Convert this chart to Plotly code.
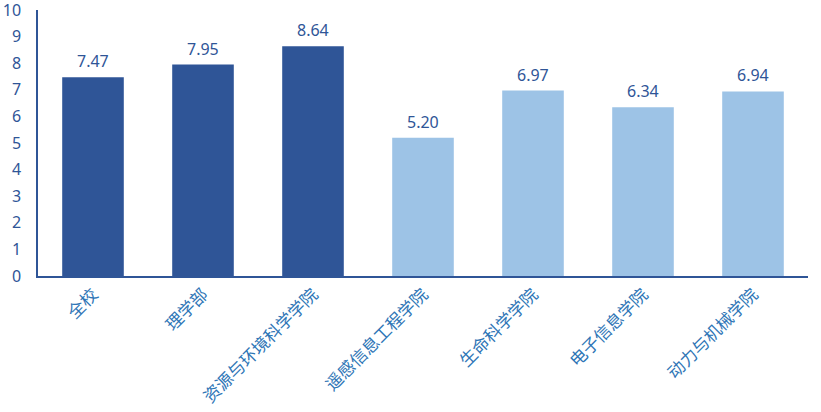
import plotly.graph_objects as go

categories = ["全校", "理学部", "资源与环境科学学院", "遥感信息工程学院", "生命科学学院", "电子信息学院", "动力与机械学院"]
values = [7.47, 7.95, 8.64, 5.20, 6.97, 6.34, 6.94]
bar_colors = ["#2F5597", "#2F5597", "#2F5597", "#9DC3E6", "#9DC3E6", "#9DC3E6", "#9DC3E6"]
y_ticks = list(range(0, 11))

fig = go.Figure(go.Bar(
    x=categories, y=values,
    marker=dict(color=bar_colors, line=dict(width=0)),
    width=0.56,
    cliponaxis=False,
))

for c, v in zip(categories, values):
    fig.add_annotation(
        x=c, y=v, text=f"{v:.2f}", showarrow=False,
        yanchor="bottom", yshift=3,
        font=dict(color="#2F5597", size=16, family="Noto Sans, sans-serif"),
    )

fig.update_layout(
    width=821, height=412,
    margin=dict(l=38, r=13, t=10, b=136),
    plot_bgcolor="white", paper_bgcolor="white",
    showlegend=False,
    font=dict(family="Noto Sans CJK SC, Noto Sans, sans-serif"),
)
fig.update_xaxes(
    automargin=False,
    showline=True, linecolor="#2F5597", linewidth=1.5,
    tickangle=-45, ticks="",
    tickfont=dict(color="#2E75B6", size=17, family="Noto Sans CJK SC"),
)
fig.update_yaxes(
    automargin=False,
    range=[0, 10.0001], tickvals=y_ticks, showgrid=False, zeroline=False,
    showline=True, linecolor="#2F5597", linewidth=1.5, ticks="",
    tickfont=dict(color="#2F5597", size=16, family="Noto Sans, sans-serif"),
    ticklabelstandoff=12, ticklabeloverflow="allow",
)
fig.write_html("out.html", config={"displayModeBar": False},
               post_script="document.body.style.margin='0';")
